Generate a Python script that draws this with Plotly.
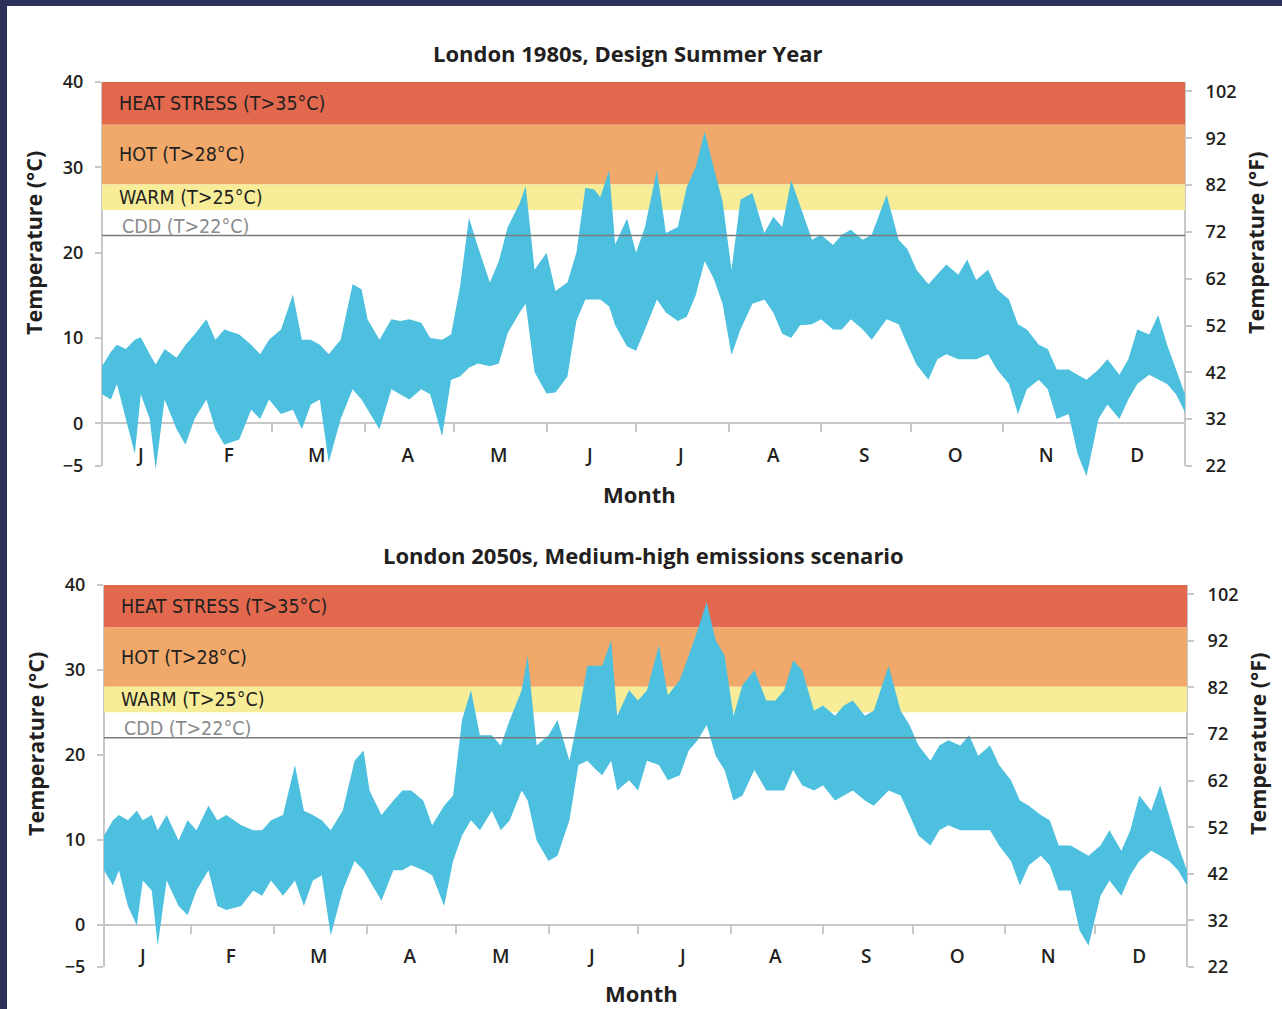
import plotly.graph_objects as go

# ------------------------------------------------------------------ data
months = ["J", "F", "M", "A", "M", "J", "J", "A", "S", "O", "N", "D"]
month_mid = [16, 45.5, 75, 105.5, 136, 166.5, 197, 228, 258.5, 289, 319.5, 350]
month_bounds = [32, 60, 91, 121, 152, 182, 213, 244, 274, 305, 335]

day = [3, 6, 8, 11, 14, 16, 19, 21, 24, 28, 31, 34, 38, 41, 44, 49, 53, 56, 59, 63,
       67, 70, 73, 76, 79, 83, 87, 90, 92, 96, 100, 103, 106, 110, 113, 117, 120, 123, 126, 129,
       133, 136, 139, 143, 145, 148, 152, 155, 159, 162, 165, 168, 170, 173, 175, 179, 182, 185, 189, 192,
       196, 199, 202, 205, 208, 211, 214, 217, 221, 225, 228, 231, 234, 237, 241, 244, 248, 251, 254, 258,
       261, 266, 270, 273, 276, 280, 283, 286, 290, 293, 296, 300, 303, 307, 310, 313, 317, 320, 323, 327,
       330, 333, 337, 340, 344, 347, 350, 354, 357, 360, 363, 366]

tmax_1980 = [6.7, 8.4, 9.2, 8.7, 9.8, 10.1, 8.1, 6.9, 8.7, 7.7,
             9.2, 10.4, 12.2, 9.8, 11.0, 10.4, 9.2, 8.1, 9.8, 11.0,
             15.1, 9.8, 9.8, 9.2, 8.1, 9.8, 16.3, 15.7, 12.2, 9.8,
             12.2, 12.0, 12.2, 11.8, 10.0, 9.8, 10.4, 16.0, 24.1, 20.7,
             16.5, 19.0, 23.0, 25.8, 27.8, 18.0, 20.0, 15.5, 16.5, 20.0,
             27.6, 27.4, 26.5, 29.7, 21.0, 24.0, 20.0, 23.0, 29.7, 22.3,
             23.0, 27.7, 30.0, 34.2, 30.0, 26.0, 18.0, 26.2, 27.0, 22.3,
             24.2, 23.0, 28.5, 25.5, 21.5, 22.1, 20.9, 22.1, 22.7, 21.5,
             22.1, 26.8, 21.5, 20.4, 18.0, 16.3, 17.4, 18.6, 17.4, 19.2,
             16.8, 18.0, 15.7, 14.5, 11.6, 11.0, 9.2, 8.7, 6.3, 6.3,
             5.7, 5.1, 6.3, 7.5, 5.7, 7.5, 11.0, 10.4, 12.7, 9.2,
             6.3, 3.4]
tmin_1980 = [3.4, 2.8, 4.6, 0.5, -3.6, 3.4, 0.5, -5.4, 2.8, -0.7,
             -2.5, 0.5, 2.8, -0.7, -2.5, -1.9, 1.6, 0.5, 2.8, 1.1,
             1.6, -0.7, 2.2, 2.8, -4.6, 0.5, 4.0, 2.8, 1.6, -0.7,
             4.0, 3.4, 2.8, 4.0, 3.4, -1.5, 5.1, 5.5, 6.5, 7.0,
             6.7, 7.0, 10.6, 13.0, 14.0, 6.0, 3.5, 3.6, 5.5, 12.0,
             14.5, 14.5, 14.5, 13.7, 11.5, 9.0, 8.5, 11.0, 14.5, 13.0,
             12.0, 12.5, 15.0, 19.0, 17.0, 14.0, 8.0, 11.0, 14.0, 14.5,
             13.0, 10.5, 10.0, 11.5, 11.6, 12.2, 11.0, 11.0, 12.2, 11.0,
             9.8, 12.2, 11.6, 9.2, 6.9, 5.1, 7.5, 8.1, 7.5, 7.5,
             7.5, 8.1, 6.3, 4.6, 1.1, 4.0, 5.1, 4.0, 0.5, 1.1,
             -3.6, -6.2, 0.5, 2.2, 0.5, 2.8, 4.6, 5.7, 5.1, 4.6,
             3.4, 1.3]

tmax_2050 = [10.5, 12.3, 12.9, 12.3, 13.4, 12.3, 12.9, 11.1, 12.9, 9.9,
             12.3, 11.1, 14.0, 12.3, 12.9, 11.7, 11.1, 11.1, 12.3, 12.9,
             18.8, 13.4, 12.9, 12.3, 11.1, 13.4, 19.3, 20.5, 15.8, 12.9,
             14.6, 15.8, 15.8, 14.6, 11.7, 14.0, 15.2, 24.1, 27.6, 22.3,
             22.3, 21.1, 24.1, 27.6, 31.7, 21.1, 22.3, 24.1, 19.3, 24.6,
             30.5, 30.5, 30.5, 33.5, 24.6, 27.6, 26.4, 27.6, 32.9, 27.0,
             28.8, 31.7, 34.7, 38.0, 33.5, 31.7, 24.6, 28.2, 30.0, 26.4,
             26.4, 27.6, 31.1, 30.0, 25.2, 25.8, 24.6, 25.8, 26.4, 24.6,
             25.2, 30.5, 25.2, 23.5, 21.1, 19.3, 21.1, 21.7, 21.1, 22.3,
             19.9, 21.1, 18.8, 17.0, 14.6, 14.0, 12.9, 12.3, 9.3, 9.3,
             8.7, 8.1, 9.3, 11.1, 8.7, 11.1, 15.2, 13.4, 16.4, 12.9,
             9.3, 6.4]
tmin_2050 = [6.4, 4.6, 6.4, 2.2, -0.1, 5.2, 4.0, -2.5, 5.2, 2.2,
             1.1, 4.0, 6.4, 2.2, 1.7, 2.2, 4.0, 3.4, 5.2, 3.4,
             5.2, 2.2, 5.2, 5.8, -1.3, 4.0, 7.5, 6.4, 5.2, 2.8,
             6.4, 6.4, 7.0, 6.4, 5.8, 2.2, 7.5, 10.5, 12.3, 11.1,
             13.4, 11.1, 12.3, 15.8, 14.6, 9.9, 7.5, 8.1, 12.3, 18.8,
             19.3, 18.2, 17.6, 19.3, 15.8, 17.0, 15.8, 19.3, 18.8, 17.0,
             17.6, 20.5, 21.7, 23.5, 19.9, 18.2, 14.6, 15.2, 18.2, 15.8,
             15.8, 15.8, 18.2, 16.4, 15.8, 16.4, 14.6, 15.2, 15.8, 14.6,
             14.0, 15.8, 15.2, 12.9, 10.5, 9.3, 11.1, 11.7, 11.1, 11.1,
             11.1, 11.1, 9.3, 7.5, 4.6, 7.0, 8.1, 7.0, 4.0, 4.0,
             -0.7, -2.5, 3.4, 5.2, 3.4, 5.8, 7.5, 8.7, 8.1, 7.5,
             6.4, 4.6]

band_names = ["HEAT STRESS (T>35°C)", "HOT (T>28°C)", "WARM (T>25°C)"]
band_low = [35, 28, 25]
band_high = [40, 35, 28]
band_colors = ["#e2694e", "#f0a96b", "#f7ed99"]
cdd_threshold = 22
cdd_label = "CDD (T>22°C)"

c_ticks = [-5, 0, 10, 20, 30, 40]
f_ticks = [22, 32, 42, 52, 62, 72, 82, 92, 102]
c_axis_span = [-5, 40]     # extent of the drawn °C axis line
f_axis_span = [22, 104]    # matching extent of the °F axis line

titles = ["London 1980s, Design Summer Year", "London 2050s, Medium-high emissions scenario"]

# ------------------------------------------------------------------ layout helpers
W, H = 1282, 1009
FILL = "#4cc0de"
AXC = "#c8c8c8"
FONT = "Open Sans"
NARROW = "Liberation Sans Narrow, DejaVu Sans Condensed, sans-serif"
INK = "#231f20"

panels = [
    dict(x0=102, x1=1185, ytop=82, ybot=466, title_x=628, title_y=53, month_y=494,
         lab_x=117, ytitle_l=33, ytitle_r=1255, ytitle_c=243,
         tmax=tmax_1980, tmin=tmin_1980),
    dict(x0=104, x1=1187, ytop=585, ybot=967, title_x=643, title_y=555, month_y=993,
         lab_x=119, ytitle_l=35, ytitle_r=1257, ytitle_c=744,
         tmax=tmax_2050, tmin=tmin_2050),
]

fig = go.Figure()
layout = dict(width=W, height=H, margin=dict(l=0, r=0, t=0, b=0, pad=0, autoexpand=False),
              paper_bgcolor="white", plot_bgcolor="white", showlegend=False,
              shapes=[], annotations=[])

# plotted range goes a little below the axis line so deep cold dips show, like the original
EXTRA = 1.5
C_RANGE = [c_axis_span[0] - EXTRA, c_axis_span[1]]
f_per_c = (f_axis_span[1] - f_axis_span[0]) / (c_axis_span[1] - c_axis_span[0])
F_RANGE = [f_axis_span[0] - EXTRA * f_per_c, f_axis_span[1]]

for i, p in enumerate(panels):
    xa = "x" if i == 0 else "x2"
    yl = "y" if i == 0 else "y3"
    yr = "y2" if i == 0 else "y4"
    xkey = "xaxis" if i == 0 else "xaxis2"
    ylkey = "yaxis" if i == 0 else "yaxis3"
    yrkey = "yaxis2" if i == 0 else "yaxis4"

    px_per_c = (p["ybot"] - p["ytop"]) / (c_axis_span[1] - c_axis_span[0])
    ybot_ext = p["ybot"] + EXTRA * px_per_c
    dom_x = [p["x0"] / W, p["x1"] / W]
    dom_y = [1 - ybot_ext / H, 1 - p["ytop"] / H]
    zero_pos = dom_y[0] + (0 - C_RANGE[0]) / (C_RANGE[1] - C_RANGE[0]) * (dom_y[1] - dom_y[0])

    fig.add_trace(go.Scatter(x=day, y=p["tmin"], mode="lines", line=dict(width=0, color=FILL),
                             xaxis=xa, yaxis=yl, hoverinfo="skip"))
    fig.add_trace(go.Scatter(x=day, y=p["tmax"], mode="lines", line=dict(width=0, color=FILL),
                             fill="tonexty", fillcolor=FILL, xaxis=xa, yaxis=yl, hoverinfo="skip"))
    # empty trace so that the °F axis is drawn
    fig.add_trace(go.Scatter(x=[None], y=[None], mode="lines", xaxis=xa, yaxis=yr, hoverinfo="skip"))

    layout[xkey] = dict(domain=dom_x, range=[3, 366], anchor="free", position=zero_pos,
                        showline=True, linecolor=AXC, linewidth=2, layer="below traces",
                        showgrid=False, zeroline=False, automargin=False,
                        tickmode="array", tickvals=month_mid, ticktext=months, ticks="",
                        ticklabelstandoff=15,
                        tickfont=dict(family=FONT, size=19, color=INK, weight=600),
                        minor=dict(tickmode="array", tickvals=month_bounds, ticks="outside",
                                   ticklen=8, tickcolor=AXC, tickwidth=2))
    layout[ylkey] = dict(domain=dom_y, range=C_RANGE, anchor=xa, side="left",
                         showline=False, automargin=False,
                         ticks="outside", ticklen=6, tickcolor=AXC, tickwidth=2,
                         tickmode="array", tickvals=c_ticks, ticklabelstandoff=8,
                         showgrid=False, zeroline=False,
                         tickfont=dict(family=FONT, size=18, color=INK, weight=600))
    layout[yrkey] = dict(range=F_RANGE, anchor=xa, overlaying=yl, side="right",
                         showline=False, automargin=False,
                         ticks="outside", ticklen=6, tickcolor=AXC, tickwidth=2,
                         tickmode="array", tickvals=f_ticks, ticklabelstandoff=10,
                         showgrid=False, zeroline=False,
                         tickfont=dict(family=FONT, size=18, color=INK, weight=600))

    # axis lines limited to the labelled span
    layout["shapes"].append(dict(type="line", xref=xa + " domain", yref=yl, x0=0, x1=0,
                                 y0=c_axis_span[0], y1=c_axis_span[1],
                                 line=dict(color=AXC, width=2), layer="below"))
    layout["shapes"].append(dict(type="line", xref=xa + " domain", yref=yr, x0=1, x1=1,
                                 y0=f_axis_span[0], y1=f_axis_span[1],
                                 line=dict(color=AXC, width=2), layer="below"))

    # threshold bands
    for name, lo, hi, col in zip(band_names, band_low, band_high, band_colors):
        layout["shapes"].append(dict(type="rect", xref=xa + " domain", yref=yl, x0=0, x1=1,
                                     y0=lo, y1=hi, fillcolor=col, line=dict(width=0), layer="below"))
        layout["annotations"].append(dict(text=name, xref="paper", yref=yl, x=p["lab_x"] / W,
                                          y=(lo + hi) / 2, xanchor="left", yanchor="middle",
                                          showarrow=False,
                                          font=dict(family=NARROW, size=19.5, color=INK)))
    layout["shapes"].append(dict(type="line", xref=xa + " domain", yref=yl, x0=0, x1=1,
                                 y0=cdd_threshold, y1=cdd_threshold,
                                 line=dict(color="#7a7a7a", width=1.5), layer="above"))
    layout["annotations"].append(dict(text=cdd_label, xref="paper", yref=yl, x=(p["lab_x"] + 3) / W,
                                      y=cdd_threshold + 1.05, xanchor="left", yanchor="middle",
                                      showarrow=False,
                                      font=dict(family=NARROW, size=19.5, color="#8a8a8a")))

    # titles
    layout["annotations"].append(dict(text=titles[i], xref="paper", yref="paper",
                                      x=p["title_x"] / W, y=1 - p["title_y"] / H,
                                      xanchor="center", yanchor="middle", showarrow=False,
                                      font=dict(family=FONT, size=22, color=INK, weight=700)))
    layout["annotations"].append(dict(text="Month", xref="paper", yref="paper",
                                      x=(p["x0"] + p["x1"]) / 2 / W - 0.003, y=1 - p["month_y"] / H,
                                      xanchor="center", yanchor="middle", showarrow=False,
                                      font=dict(family=FONT, size=22, color=INK, weight=700)))
    layout["annotations"].append(dict(text="Temperature (°C)", xref="paper", yref="paper",
                                      x=p["ytitle_l"] / W, y=1 - p["ytitle_c"] / H, textangle=-90,
                                      xanchor="center", yanchor="middle", showarrow=False,
                                      font=dict(family=FONT, size=21.5, color=INK, weight=700)))
    layout["annotations"].append(dict(text="Temperature (°F)", xref="paper", yref="paper",
                                      x=p["ytitle_r"] / W, y=1 - p["ytitle_c"] / H, textangle=-90,
                                      xanchor="center", yanchor="middle", showarrow=False,
                                      font=dict(family=FONT, size=21.5, color=INK, weight=700)))

# dark frame strips (left and top)
layout["shapes"].append(dict(type="rect", xref="paper", yref="paper", x0=0, x1=7 / W, y0=0, y1=1,
                             fillcolor="#2b3158", line=dict(width=0), layer="above"))
layout["shapes"].append(dict(type="rect", xref="paper", yref="paper", x0=0, x1=1, y0=1 - 6 / H, y1=1,
                             fillcolor="#2b3158", line=dict(width=0), layer="above"))

fig.update_layout(**layout)
fig.write_html("out.html", config={"displayModeBar": False},
               post_script="document.body.style.margin='0';document.body.style.overflow='hidden';")
